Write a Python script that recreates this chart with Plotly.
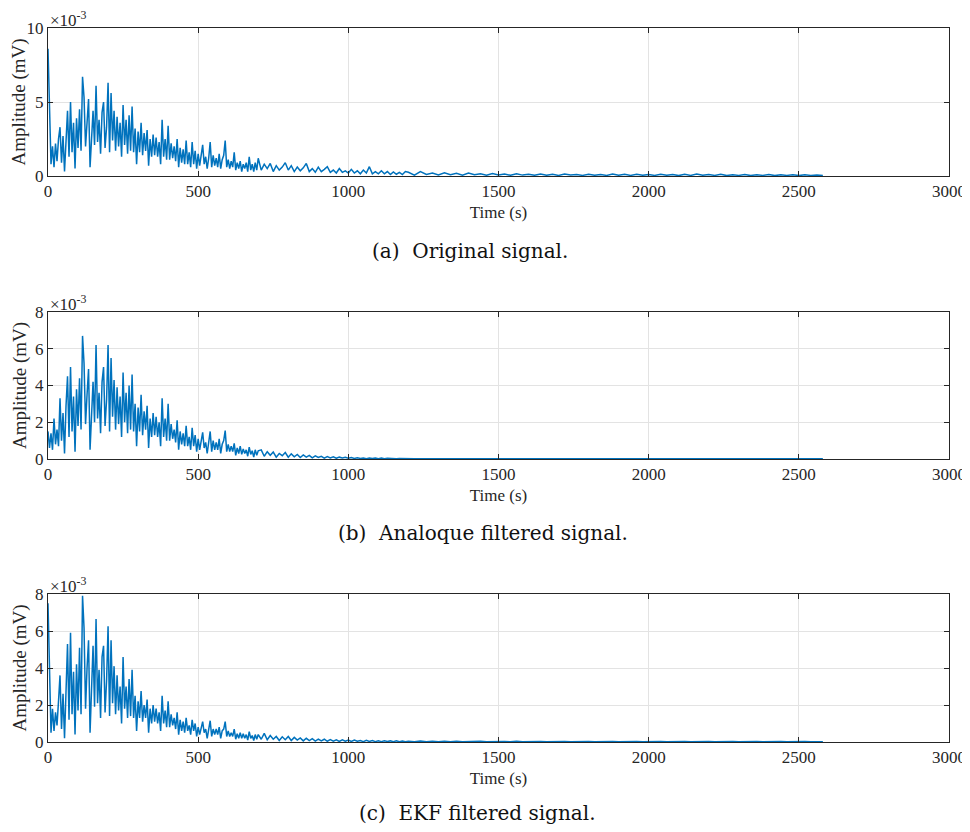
import numpy as np
import plotly.graph_objects as go

# Time sampling (s)
t_early = list(range(0, 700, 5))
t_mid = list(range(700, 1200, 10))
t_late = list(range(1200, 2600, 20))
time_s = t_early + t_mid + t_late

# Amplitudes in units of 1e-3 mV
orig_early = [8.6, 3.5, 0.8, 2.0, 0.6, 2.2, 1.0, 2.5, 3.3, 0.9,
              2.7, 0.3, 3.0, 4.4, 1.3, 5.0, 1.6, 3.6, 0.5, 3.9,
              1.9, 4.5, 1.7, 6.7, 5.3, 2.0, 3.6, 5.2, 0.6, 3.0,
              4.4, 2.1, 6.1, 2.3, 3.8, 1.5, 4.3, 5.0, 1.9, 3.3,
              6.3, 1.6, 5.6, 2.4, 4.4, 1.7, 4.0, 2.0, 3.6, 1.3,
              4.8, 2.1, 3.8, 1.5, 4.1, 1.7, 4.7, 1.6, 3.2, 0.8,
              3.0, 1.6, 3.6, 1.4, 2.9, 1.7, 3.1, 0.7, 2.5, 1.3,
              2.8, 1.4, 2.6, 1.3, 2.3, 0.8, 3.8, 1.3, 2.5, 1.1,
              3.4, 1.1, 2.2, 1.2, 2.0, 1.0, 2.5, 0.6, 1.9, 0.9,
              1.8, 0.8, 2.4, 0.8, 1.6, 0.6, 2.3, 0.8, 1.7, 0.5,
              1.5, 0.7, 1.4, 2.1, 0.8, 1.3, 0.5, 1.2, 2.3, 0.6,
              1.4, 0.7, 1.2, 0.6, 1.5, 0.5, 1.1, 1.4, 2.4, 0.6,
              1.1, 0.5, 1.0, 0.6, 1.6, 0.4, 0.9, 0.5, 1.0, 0.3,
              0.8, 0.5, 0.9, 0.3, 1.3, 0.4, 0.8, 0.3, 0.9, 0.4]
orig_mid = [1.2, 0.4, 0.8, 0.5, 0.85, 0.3, 0.7, 0.4, 0.6, 0.9,
            0.4, 0.7, 0.3, 0.6, 0.35, 0.55, 0.85, 0.3, 0.5, 0.25,
            0.6, 0.3, 0.45, 0.63, 0.25, 0.4, 0.2, 0.5, 0.25, 0.35,
            0.2, 0.45, 0.2, 0.35, 0.15, 0.4, 0.2, 0.63, 0.15, 0.3,
            0.15, 0.35, 0.15, 0.3, 0.1, 0.28, 0.12, 0.25, 0.1, 0.3]
orig_late = [0.25, 0.06, 0.3, 0.1, 0.2, 0.07, 0.22, 0.09, 0.18, 0.06,
             0.2, 0.08, 0.15, 0.06, 0.17, 0.07, 0.14, 0.05, 0.15, 0.06,
             0.12, 0.05, 0.14, 0.05, 0.11, 0.04, 0.13, 0.06, 0.1, 0.04,
             0.12, 0.05, 0.1, 0.04, 0.13, 0.05, 0.11, 0.04, 0.12, 0.05,
             0.1, 0.04, 0.12, 0.05, 0.1, 0.03, 0.11, 0.04, 0.14, 0.05,
             0.1, 0.04, 0.11, 0.03, 0.09, 0.04, 0.1, 0.03, 0.09, 0.04,
             0.1, 0.03, 0.08, 0.04, 0.09, 0.03, 0.08, 0.04, 0.07, 0.03]

analog_early = [1.5, 0.6, 1.4, 0.5, 2.2, 0.8, 1.6, 0.7, 3.3, 1.0,
                2.5, 0.3, 2.9, 4.5, 1.2, 5.0, 1.5, 3.4, 0.4, 3.8,
                1.8, 4.4, 1.6, 6.7, 5.2, 1.9, 3.5, 4.9, 0.5, 2.8,
                4.2, 2.0, 6.2, 2.2, 3.6, 1.4, 4.2, 5.0, 1.8, 3.2,
                6.2, 1.5, 5.5, 2.3, 4.3, 1.6, 3.9, 1.9, 3.4, 1.2,
                4.7, 2.0, 3.6, 1.4, 4.0, 1.6, 4.6, 1.5, 3.0, 0.7,
                2.8, 1.5, 3.5, 1.3, 2.6, 1.6, 2.9, 0.6, 2.2, 1.2,
                2.5, 1.3, 2.3, 1.2, 2.0, 0.7, 3.3, 1.2, 2.2, 1.0,
                3.0, 1.0, 1.9, 1.1, 1.6, 0.9, 2.1, 0.5, 1.5, 0.8,
                1.4, 0.7, 1.8, 0.7, 1.2, 0.5, 1.7, 0.7, 1.3, 0.4,
                1.1, 0.5, 1.0, 1.45, 0.6, 0.9, 0.3, 0.8, 1.5, 0.4,
                1.0, 0.5, 0.9, 0.5, 1.1, 0.3, 0.8, 1.0, 1.55, 0.4,
                0.8, 0.4, 0.7, 0.4, 0.85, 0.2, 0.6, 0.3, 0.7, 0.25,
                0.55, 0.3, 0.5, 0.15, 0.64, 0.25, 0.45, 0.1, 0.5, 0.2]
analog_mid = [0.45, 0.5, 0.15, 0.4, 0.2, 0.38, 0.1, 0.3, 0.18, 0.35,
              0.1, 0.28, 0.12, 0.25, 0.08, 0.22, 0.1, 0.2, 0.06, 0.17,
              0.08, 0.15, 0.05, 0.13, 0.06, 0.12, 0.04, 0.1, 0.05, 0.09,
              0.04, 0.08, 0.03, 0.07, 0.03, 0.06, 0.02, 0.06, 0.03, 0.05,
              0.02, 0.05, 0.02, 0.04, 0.02, 0.04, 0.02, 0.03, 0.02, 0.03]
analog_late = [0.03, 0.01, 0.02, 0.01, 0.03, 0.01, 0.02, 0.01, 0.02, 0.01,
               0.02, 0.01, 0.02, 0.01, 0.02, 0.01, 0.02, 0.01, 0.02, 0.01,
               0.02, 0.01, 0.02, 0.01, 0.02, 0.01, 0.02, 0.01, 0.02, 0.01,
               0.02, 0.01, 0.02, 0.01, 0.02, 0.01, 0.02, 0.01, 0.02, 0.01,
               0.02, 0.01, 0.02, 0.01, 0.02, 0.01, 0.02, 0.01, 0.02, 0.01,
               0.02, 0.01, 0.02, 0.01, 0.02, 0.01, 0.02, 0.01, 0.02, 0.01,
               0.02, 0.01, 0.02, 0.01, 0.02, 0.01, 0.02, 0.01, 0.02, 0.01]

ekf_early = [7.5, 3.0, 0.5, 1.8, 0.6, 1.6, 0.9, 2.2, 3.6, 0.7,
             2.6, 0.2, 3.3, 5.3, 1.2, 5.9, 1.5, 3.8, 0.4, 4.2,
             1.7, 5.1, 1.5, 7.9, 6.15, 1.8, 4.0, 5.5, 0.5, 3.1,
             5.2, 1.9, 6.65, 2.1, 3.9, 1.3, 4.6, 5.2, 1.6, 3.3,
             6.25, 1.4, 5.5, 2.1, 4.1, 1.5, 3.6, 1.7, 3.0, 1.0,
             4.6, 1.8, 3.0, 1.3, 3.4, 1.4, 3.9, 1.3, 2.5, 0.6,
             2.2, 1.3, 2.75, 1.1, 2.0, 1.3, 2.3, 0.5, 1.8, 1.0,
             2.0, 1.1, 1.8, 1.0, 1.6, 0.6, 2.5, 1.0, 1.7, 0.8,
             2.2, 0.8, 1.5, 0.9, 1.3, 0.7, 1.6, 0.4, 1.2, 0.6,
             1.1, 0.5, 1.3, 0.6, 0.9, 0.4, 1.2, 0.6, 1.0, 0.3,
             0.8, 0.4, 0.7, 1.1, 0.5, 0.7, 0.2, 0.6, 1.15, 0.3,
             0.7, 0.4, 0.7, 0.4, 0.8, 0.2, 0.6, 0.7, 1.1, 0.3,
             0.6, 0.3, 0.5, 0.3, 0.7, 0.15, 0.45, 0.2, 0.5, 0.2,
             0.45, 0.2, 0.4, 0.1, 0.56, 0.2, 0.35, 0.08, 0.4, 0.15]
ekf_mid = [0.4, 0.15, 0.47, 0.12, 0.35, 0.15, 0.3, 0.08, 0.28, 0.12,
           0.3, 0.08, 0.25, 0.1, 0.22, 0.06, 0.2, 0.08, 0.18, 0.05,
           0.16, 0.06, 0.15, 0.04, 0.13, 0.05, 0.12, 0.03, 0.12, 0.04,
           0.1, 0.03, 0.1, 0.04, 0.08, 0.02, 0.09, 0.03, 0.08, 0.02,
           0.07, 0.02, 0.07, 0.03, 0.06, 0.02, 0.06, 0.02, 0.05, 0.02]
ekf_late = [0.04, 0.01, 0.05, 0.01, 0.04, 0.01, 0.04, 0.02, 0.04, 0.01,
            0.03, 0.01, 0.04, 0.01, 0.03, 0.01, 0.03, 0.01, 0.04, 0.01,
            0.03, 0.01, 0.03, 0.01, 0.03, 0.01, 0.03, 0.01, 0.03, 0.01,
            0.03, 0.01, 0.03, 0.01, 0.03, 0.01, 0.03, 0.01, 0.03, 0.01,
            0.03, 0.01, 0.03, 0.01, 0.03, 0.01, 0.03, 0.01, 0.03, 0.01,
            0.03, 0.01, 0.03, 0.01, 0.03, 0.01, 0.03, 0.01, 0.03, 0.01,
            0.03, 0.01, 0.03, 0.01, 0.03, 0.01, 0.03, 0.01, 0.03, 0.01]

original = orig_early + orig_mid + orig_late
analog = analog_early + analog_mid + analog_late
ekf = ekf_early + ekf_mid + ekf_late

captions = ["(a)  Original signal.", "(b)  Analoque filtered signal.", "(c)  EKF filtered signal."]
y_ranges = [[0, 10], [0, 8], [0, 8]]
y_ticks = [[0, 5, 10], [0, 2, 4, 6, 8], [0, 2, 4, 6, 8]]
x_ticks = [0, 500, 1000, 1500, 2000, 2500, 3000]

# page body has an 8px margin: figure starts at window pixel (8, 8)
OFF = 8
W, H = 970 - OFF, 832 - 2 * OFF
boxes = [(28, 176), (312, 459), (594, 742)]   # window pixel (top, bottom)
caption_y = [251, 533, 813]
caption_x = [470, 483, 477]
x_left, x_right = 48, 949

def px(x):
    return (x - OFF) / W

def py(y):
    return (H - (y - OFF)) / H

LINE = "#0072BD"
AX = "#262626"
FONT = "'Liberation Serif', 'Times New Roman', Times, serif"
CAPFONT = "'DejaVu Serif', serif"

fig = go.Figure()
series = [original, analog, ekf]
layout = dict(
    width=W, height=H,
    margin=dict(l=0, r=0, t=0, b=0),
    paper_bgcolor="white", plot_bgcolor="white",
    showlegend=False,
    font=dict(family=FONT, size=17, color=AX),
)
annotations = []
for i, (vals, (top, bot)) in enumerate(zip(series, boxes)):
    n = "" if i == 0 else str(i + 1)
    fig.add_trace(go.Scatter(x=time_s, y=vals, mode="lines",
                             line=dict(color=LINE, width=1.5),
                             xaxis="x" + n, yaxis="y" + n, hoverinfo="skip"))
    layout["xaxis" + n] = dict(
        domain=[px(x_left), px(x_right)], anchor="y" + n,
        range=[0, 3000], tickvals=x_ticks, ticktext=[str(v) for v in x_ticks],
        showline=True, linecolor=AX, linewidth=1, mirror="ticks",
        ticks="inside", ticklen=5, tickcolor=AX,
        showgrid=True, gridcolor="#e3e3e3", gridwidth=1, zeroline=False,
        tickfont=dict(family=FONT, size=17, color=AX),
        title=dict(text="Time (s)", font=dict(family=FONT, size=17, color=AX), standoff=5),
        automargin=False,
    )
    layout["yaxis" + n] = dict(
        domain=[py(bot), py(top)], anchor="x" + n,
        range=y_ranges[i], tickvals=y_ticks[i], ticktext=[str(v) for v in y_ticks[i]],
        showline=True, linecolor=AX, linewidth=1, mirror="ticks",
        ticks="inside", ticklen=5, tickcolor=AX,
        showgrid=True, gridcolor="#e3e3e3", gridwidth=1, zeroline=False,
        tickfont=dict(family=FONT, size=17, color=AX),
        title=dict(text="Amplitude (mV)", font=dict(family=FONT, size=19, color=AX), standoff=3),
        automargin=False,
    )
    annotations.append(dict(text="×10<sup>-3</sup>", x=px(x_left), y=py(top - 9),
                            xref="paper", yref="paper", xanchor="left", yanchor="middle",
                            showarrow=False, font=dict(family=FONT, size=17, color=AX)))
    annotations.append(dict(text=captions[i], x=px(caption_x[i]), y=py(caption_y[i]),
                            xref="paper", yref="paper", xanchor="center", yanchor="middle",
                            showarrow=False, font=dict(family=CAPFONT, size=20, color="#111111")))
layout["annotations"] = annotations
fig.update_layout(**layout)
fig.write_html("out.html")
